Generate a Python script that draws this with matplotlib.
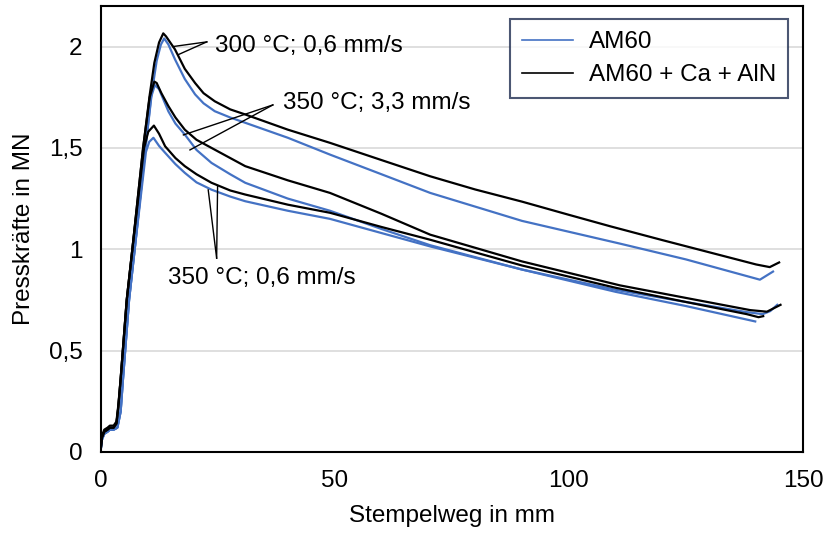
import numpy as np
import matplotlib
matplotlib.use("Agg")
import matplotlib.pyplot as plt

plt.rcParams['font.family'] = ['Liberation Sans', 'DejaVu Sans']

BLUE = '#4472c4'
BLACK = '#000000'

# 300 °C; 0,6 mm/s
x_300_blk = [0, 0.3, 0.8, 1.5, 2.0, 2.8, 3.4, 3.8, 4.3, 5.6, 6.8, 9.1, 10.5, 11.5, 12.5, 13.4, 14.0, 15.9, 18.0,
             20.2, 22.0, 24.4, 27.7, 30.9, 40, 49, 60, 70.4, 80, 90, 100, 108.9, 120, 130, 140, 142.9, 144.9]
y_300_blk = [0, 0.07, 0.10, 0.11, 0.12, 0.12, 0.14, 0.22, 0.36, 0.75, 1.00, 1.50, 1.76, 1.92, 2.02, 2.065, 2.05, 1.986, 1.89,
             1.82, 1.77, 1.73, 1.69, 1.665, 1.59, 1.525, 1.44, 1.36, 1.295, 1.235, 1.17, 1.113, 1.045, 0.985, 0.925, 0.912, 0.935]
x_300_blu = [0, 0.3, 0.8, 1.5, 2.0, 2.8, 3.6, 4.3, 4.8, 6.1, 7.3, 9.6, 11.0, 12.0, 12.9, 13.6, 14.5, 15.9, 18.0,
             20.2, 22.0, 24.4, 27.7, 30.9, 40, 49, 60, 70.4, 90, 110.9, 125, 140.8, 143.6]
y_300_blu = [0, 0.06, 0.09, 0.10, 0.11, 0.11, 0.12, 0.20, 0.36, 0.75, 1.00, 1.50, 1.78, 1.93, 2.01, 2.04, 2.01, 1.937, 1.84,
             1.764, 1.72, 1.681, 1.65, 1.624, 1.55, 1.467, 1.37, 1.278, 1.14, 1.028, 0.95, 0.85, 0.89]

# 350 °C; 3,3 mm/s
x_33_blk = [0, 0.3, 0.8, 1.5, 2.0, 2.8, 3.4, 3.8, 4.3, 5.6, 6.8, 9.1, 10.5, 11.5, 12.0, 13.0, 14.5, 16.0, 18.0,
            20.5, 23.7, 27.7, 30.9, 40, 49, 60, 70.4, 90, 110.9, 125, 138.7, 142.3, 145.2]
y_33_blk = [0, 0.08, 0.11, 0.12, 0.13, 0.13, 0.15, 0.23, 0.36, 0.75, 1.00, 1.50, 1.75, 1.827, 1.82, 1.77, 1.706, 1.65, 1.59,
            1.54, 1.50, 1.45, 1.41, 1.34, 1.278, 1.175, 1.072, 0.94, 0.822, 0.76, 0.70, 0.692, 0.726]
x_33_blu = [0, 0.3, 0.8, 1.5, 2.0, 2.8, 3.6, 4.3, 4.8, 6.1, 7.3, 9.6, 10.8, 11.6, 12.5, 14.5, 16.0, 18.0,
            20.5, 23.7, 27.7, 30.9, 40, 49, 60, 70.4, 90, 110, 125, 138, 141.4, 143, 144.5]
y_33_blu = [0, 0.06, 0.09, 0.10, 0.11, 0.11, 0.12, 0.20, 0.36, 0.75, 1.00, 1.50, 1.75, 1.81, 1.79, 1.68, 1.62, 1.566,
            1.49, 1.426, 1.37, 1.328, 1.25, 1.19, 1.10, 1.02, 0.90, 0.80, 0.74, 0.69, 0.68, 0.695, 0.726]

# 350 °C; 0,6 mm/s
x_06_blk = [0, 0.3, 0.8, 1.5, 2.0, 2.8, 3.4, 3.8, 4.3, 5.6, 6.8, 9.3, 10.2, 11.4, 12.5, 13.8, 16.0, 18.0,
            20.5, 23.7, 27.7, 30.9, 40, 49, 60, 70.4, 90, 110, 125, 138, 140.5, 141.5]
y_06_blk = [0, 0.07, 0.10, 0.11, 0.12, 0.12, 0.14, 0.22, 0.36, 0.75, 1.00, 1.50, 1.58, 1.61, 1.57, 1.508, 1.45, 1.41,
            1.37, 1.328, 1.29, 1.27, 1.22, 1.18, 1.11, 1.047, 0.92, 0.81, 0.74, 0.68, 0.665, 0.67]
x_06_blu = [0, 0.3, 0.8, 1.5, 2.0, 2.8, 3.6, 4.3, 4.8, 6.1, 7.3, 9.7, 10.4, 11.3, 12.5, 13.8, 16.0, 18.0,
            20.5, 23.7, 27.7, 30.9, 40, 49, 60, 70.4, 90, 110, 125, 139.8]
y_06_blu = [0, 0.06, 0.09, 0.10, 0.11, 0.11, 0.12, 0.20, 0.36, 0.75, 1.00, 1.48, 1.53, 1.55, 1.51, 1.476, 1.42, 1.377,
            1.33, 1.294, 1.26, 1.237, 1.19, 1.15, 1.08, 1.014, 0.90, 0.79, 0.72, 0.644]

legend_labels = ['AM60', 'AM60 + Ca + AlN']
x_ticks = [0, 50, 100, 150]
y_ticks = [0, 0.5, 1, 1.5, 2]
y_ticklabels = ['0', '0,5', '1', '1,5', '2']

FS = 17.5
W, H = 826, 533
fig = plt.figure(figsize=(W / 100, H / 100), dpi=100)
ax = fig.add_axes([100.5 / W, (H - 452) / H, (803 - 100.5) / W, 446 / H])

lw = 1.6
ax.plot(x_300_blu, y_300_blu, color=BLUE, lw=lw, label=legend_labels[0])
ax.plot(x_33_blu, y_33_blu, color=BLUE, lw=lw)
ax.plot(x_06_blu, y_06_blu, color=BLUE, lw=lw)
ax.plot(x_300_blk, y_300_blk, color=BLACK, lw=lw, label=legend_labels[1])
ax.plot(x_33_blk, y_33_blk, color=BLACK, lw=lw)
ax.plot(x_06_blk, y_06_blk, color=BLACK, lw=lw)

ax.set_xlim(0, 150)
ax.set_ylim(0, 2.2)
ax.set_xticks(x_ticks)
ax.set_xticklabels([str(t) for t in x_ticks])
ax.set_yticks(y_ticks)
ax.set_yticklabels(y_ticklabels)
ax.tick_params(length=0, labelsize=FS, pad=13)
ax.yaxis.grid(True, color='#d9d9d9', lw=1.2)
ax.set_axisbelow(True)
for s in ax.spines.values():
    s.set_linewidth(1.5)
    s.set_color('black')

ax.set_xlabel('Stempelweg in mm', fontsize=FS, labelpad=9)
ax.set_ylabel('Presskräfte in MN', fontsize=FS, labelpad=10)

# annotations
ann_kw = dict(color='black', lw=1.0)
ax.plot([22.7, 15.5], [2.023, 2.0], **ann_kw)
ax.plot([22.7, 16.6], [2.023, 1.96], **ann_kw)
ax.text(24.5, 2.005, '300 °C; 0,6 mm/s', fontsize=FS, va='center', ha='left')

ax.plot([36.8, 17.7], [1.712, 1.564], **ann_kw)
ax.plot([36.8, 19.1], [1.712, 1.49], **ann_kw)
ax.text(39.0, 1.72, '350 °C; 3,3 mm/s', fontsize=FS, va='center', ha='left')

ax.plot([24.8, 25.0], [0.956, 1.309], **ann_kw)
ax.plot([24.8, 23.0], [0.956, 1.293], **ann_kw)
ax.text(14.4, 0.86, '350 °C; 0,6 mm/s', fontsize=FS, va='center', ha='left')

leg = ax.legend(loc='upper right', bbox_to_anchor=(788 / W, (H - 19) / H), bbox_transform=fig.transFigure,
                fontsize=FS, frameon=True, fancybox=False, handlelength=2.1, handletextpad=0.65,
                borderpad=0.5, labelspacing=0.45, borderaxespad=0)
leg.get_frame().set_edgecolor('#1f2d50')
leg.get_frame().set_linewidth(1.5)
for h in leg.get_lines():
    h.set_linewidth(1.2)

fig.savefig('out.png', dpi=100)
